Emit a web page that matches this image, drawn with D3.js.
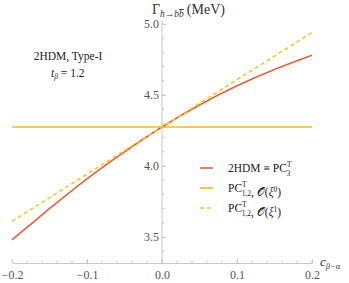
<!DOCTYPE html>
<html>
<head>
<meta charset="utf-8">
<script src="https://cdn.jsdelivr.net/npm/d3@7"></script>
<style>
  body { margin: 0; background: #fff; }
  text { font-family: 'Liberation Serif', 'DejaVu Serif', serif; }
</style>
</head>
<body>
<div class="chart"></div>
<script>
// c_{beta-alpha} sample points and widths
const cba = [-0.2, -0.15, -0.1, -0.05, 0, 0.05, 0.1, 0.15, 0.2];
const full2HDM = [3.48, 3.70, 3.91, 4.10, 4.275, 4.43, 4.565, 4.68, 4.78];
const order0X = [-0.2, 0.2];
const order0 = [4.275, 4.275];
const order1X = [-0.2, 0.2];
const order1 = [3.61, 4.94];

const xTicks = [-0.2, -0.1, 0.0, 0.1, 0.2];
const yTicks = [3.5, 4.0, 4.5, 5.0];

const WIDTH = 349;
const HEIGHT = 283;
const RED = '#e0613d';
const GOLD = '#f5b624';
const GOLD_DASH = '#fbc22a';
const AXIS = '#c8c8c8';

const svg = d3.select('.chart')
  .append('svg')
    .attr('width', WIDTH)
    .attr('height', HEIGHT);

const x = d3.scaleLinear().domain([-0.2, 0.2]).range([12, 312]);
const y = d3.scaleLinear().domain([3.5, 5.0]).range([237, 24]);
const axisY = 263;   // where the c axis crosses
const axisX = x(0);  // where the Gamma axis crosses

// minor ticks
const xMinor = d3.range(-0.2, 0.2001, 0.02);
const yMinor = d3.range(3.4, 5.001, 0.1).filter(v => y(v) < axisY);

// x axis
const xAxis = svg.append('g')
  .attr('transform', `translate(0, ${axisY})`)
  .call(d3.axisBottom(x).tickValues(xTicks).tickSize(-4).tickSizeOuter(0)
    .tickFormat(d => d3.format('.1f')(d).replace('-', '\u2212')));
xAxis.select('.domain').attr('stroke', AXIS);
xAxis.selectAll('.tick line').attr('stroke', AXIS);
xAxis.selectAll('.tick text').attr('fill', '#555').attr('font-size', 12).attr('dy', '1.05em');
xAxis.selectAll('.minor')
  .data(xMinor)
  .enter().append('line')
    .attr('x1', d => x(d)).attr('x2', d => x(d))
    .attr('y1', 0).attr('y2', -2.5)
    .attr('stroke', AXIS);

// y axis
const yAxis = svg.append('g')
  .attr('transform', `translate(${axisX}, 0)`)
  .call(d3.axisLeft(y).tickValues(yTicks).tickSize(-4).tickSizeOuter(0)
    .tickFormat(d3.format('.1f')));
yAxis.select('.domain').attr('d', `M0,${y(5.03)}V${axisY}`).attr('stroke', AXIS);
yAxis.selectAll('.tick line').attr('stroke', AXIS);
yAxis.selectAll('.tick text').attr('fill', '#555').attr('font-size', 12).attr('x', -3);
yAxis.selectAll('.minor')
  .data(yMinor)
  .enter().append('line')
    .attr('x1', 0).attr('x2', 2.5)
    .attr('y1', d => y(d)).attr('y2', d => y(d))
    .attr('stroke', AXIS);

// curves
const line = d3.line().x(d => x(d[0])).y(d => y(d[1]));

svg.append('path')
  .datum(d3.zip(order0X, order0))
  .attr('d', line)
  .attr('fill', 'none').attr('stroke', GOLD).attr('stroke-width', 1.6);

svg.append('path')
  .datum(d3.zip(cba, full2HDM))
  .attr('d', line.curve(d3.curveNatural))
  .attr('fill', 'none').attr('stroke', RED).attr('stroke-width', 1.6);

svg.append('path')
  .datum(d3.zip(order1X, order1))
  .attr('d', d3.line().x(d => x(d[0])).y(d => y(d[1])))
  .attr('fill', 'none').attr('stroke', GOLD_DASH).attr('stroke-width', 1.6)
  .attr('stroke-dasharray', '4,3');

// axis labels
const yLabel = svg.append('text')
  .attr('x', 152).attr('y', 14)
  .attr('font-size', 14).attr('fill', '#333');
yLabel.append('tspan').text('\u0393');
yLabel.append('tspan').attr('font-size', 9.5).attr('font-style', 'italic').attr('dy', 3).text('h\u2192b');
yLabel.append('tspan').attr('font-size', 9.5).attr('font-style', 'italic').attr('text-decoration', 'overline').text('b');
yLabel.append('tspan').attr('dy', -3).attr('dx', 3).text('(MeV)');

const xLabel = svg.append('text')
  .attr('x', 320).attr('y', 266)
  .attr('font-size', 13).attr('fill', '#333');
xLabel.append('tspan').attr('font-style', 'italic').text('c');
xLabel.append('tspan').attr('font-size', 8.5).attr('font-style', 'italic').attr('dy', 3).text('\u03b2\u2212\u03b1');

// annotation
svg.append('text')
  .attr('x', 68).attr('y', 60).attr('text-anchor', 'middle')
  .attr('font-size', 11.5).attr('fill', '#222')
  .text('2HDM, Type-I');
const tb = svg.append('text')
  .attr('x', 51).attr('y', 77)
  .attr('font-size', 11.5).attr('fill', '#222');
tb.append('tspan').attr('font-style', 'italic').text('t');
tb.append('tspan').attr('font-size', 7.5).attr('font-style', 'italic').attr('dy', 2).text('\u03b2');
tb.append('tspan').attr('dy', -2).text(' = 1.2');

// legend
const legend = svg.append('g').attr('transform', 'translate(200, 168)');
const rows = [
  { color: RED, dash: null },
  { color: GOLD, dash: null },
  { color: GOLD_DASH, dash: '4,3' }
];
rows.forEach((r, i) => {
  legend.append('line')
    .attr('x1', 0).attr('x2', 13)
    .attr('y1', i * 20).attr('y2', i * 20)
    .attr('stroke', r.color).attr('stroke-width', 1.6)
    .attr('stroke-dasharray', r.dash);
});

function pcLabel (t, sub) {
  t.append('tspan').text('PC');
  t.append('tspan').attr('font-size', 7.5).attr('dy', -5).text('T');
  t.append('tspan').attr('font-size', 7.5).attr('dx', -5).attr('dy', 9).text(sub);
  t.append('tspan').attr('dy', -4).text('');
}

const l1 = legend.append('text').attr('x', 28).attr('y', 4)
  .attr('font-size', 11.5).attr('fill', '#222');
l1.append('tspan').text('2HDM \u2261 ');
pcLabel(l1, '3');

[0, 1].forEach(k => {
  const t = legend.append('text').attr('x', 28).attr('y', 24 + k * 20)
    .attr('font-size', 11.5).attr('fill', '#222');
  pcLabel(t, '1,2');
  t.append('tspan').text(', \ud835\udcaa(');
  t.append('tspan').attr('font-style', 'italic').text('\u03be');
  t.append('tspan').attr('font-size', 7.5).attr('dy', -4).text(String(k));
  t.append('tspan').attr('dy', 4).text(')');
});
</script>
</body>
</html>
